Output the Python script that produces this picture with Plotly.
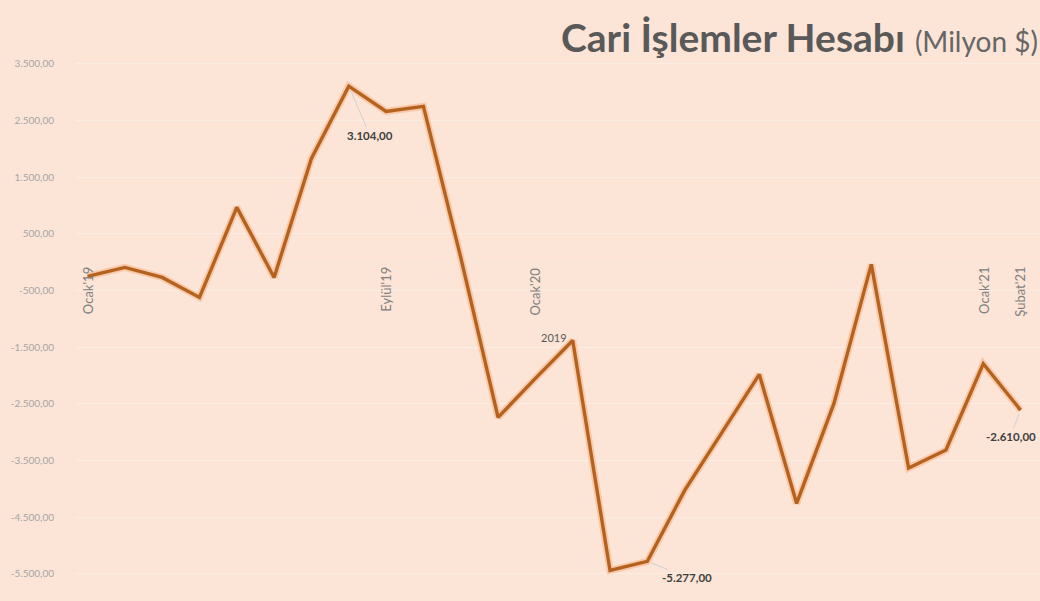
import plotly.graph_objects as go

month_names = ["Ocak", "Şubat", "Mart", "Nisan", "Mayıs", "Haziran", "Temmuz",
               "Ağustos", "Eylül", "Ekim", "Kasım", "Aralık"]
months = [f"{m}'{y}" for y in (19, 20) for m in month_names] + ["Ocak'21", "Şubat'21"]

values = [-252, -93, -270, -623, 965, -270, 1829, 3104, 2658, 2746, 83,
          -2739, -2051, -1381, -5437, -5277, -4026, -3003, -1980, -4256,
          -2492, -40, -3631, -3314, -1793, -2610]

shown_months = ["Ocak'19", "Eylül'19", "Ocak'20", "Ocak'21", "Şubat'21"]

y_tickvals = [3500, 2500, 1500, 500, -500, -1500, -2500, -3500, -4500, -5500]
y_ticktext = ["3.500,00", "2.500,00", "1.500,00", "500,00", "-500,00", "-1.500,00",
              "-2.500,00", "-3.500,00", "-4.500,00", "-5.500,00"]

# labelled points: (month, label text, ax, ay)
point_labels = [("Ağustos'19", "3.104,00", 21, 49),
                ("Nisan'20", "-5.277,00", 40, 16),
                ("Şubat'21", "-2.610,00", -10, 26)]
series_label_month = "Şubat'20"
series_label = "2019"

BG = "#FCE4D6"
FONT = "Lato, Open Sans, sans-serif"

fig = go.Figure()
fig.add_trace(go.Scatter(x=months, y=values, mode="lines",
                         line=dict(color="rgba(244,177,131,0.55)", width=7),
                         hoverinfo="skip", showlegend=False))
fig.add_trace(go.Scatter(x=months, y=values, mode="lines",
                         line=dict(color="#B5621F", width=3.4),
                         showlegend=False))

anns = []
for m in shown_months:
    anns.append(dict(x=m, y=0, xref="x", yref="y", text=m, showarrow=False,
                     textangle=-90, xanchor="center", yanchor="top", yshift=-3,
                     font=dict(family=FONT, size=13, color="#808080")))

for m, txt, ax, ay in point_labels:
    v = values[months.index(m)]
    anns.append(dict(x=m, y=v, xref="x", yref="y", text=f"<b>{txt}</b>",
                     showarrow=True, arrowhead=0, arrowwidth=1, arrowcolor="#D0D0D0",
                     ax=ax, ay=ay, standoff=4,
                     font=dict(family=FONT, size=11.5, color="#404040")))

anns.append(dict(x=series_label_month, y=values[months.index(series_label_month)],
                 xref="x", yref="y", text=series_label, showarrow=False,
                 xanchor="right", yanchor="middle", xshift=-4, yshift=3,
                 font=dict(family=FONT, size=11, color="#595959")))

anns.append(dict(x=1, y=1.001, xref="paper", yref="paper", xanchor="right", yanchor="middle",
                 xshift=0, yshift=3, showarrow=False,
                 text="<b>Cari İşlemler Hesabı</b> <span style='font-size:28px;color:#666666'>(Milyon $)</span>",
                 font=dict(family=FONT, size=39, color="#595959")))

fig.update_layout(
    width=1040, height=601,
    margin=dict(l=75, r=0, t=41, b=10),
    paper_bgcolor=BG, plot_bgcolor=BG,
    annotations=anns,
    xaxis=dict(type="category", range=[-0.335, 25.52], showticklabels=False,
               showgrid=False, zeroline=False, showline=False),
    yaxis=dict(range=[-5800, 3900], tickvals=y_tickvals, ticktext=y_ticktext,
               tickfont=dict(family=FONT, size=10, color="#A6A6A6"),
               showgrid=True, gridcolor="#FAEDE4", gridwidth=1,
               zeroline=True, zerolinecolor="#F7E6DA", zerolinewidth=1,
               ticklabelstandoff=20, showline=False),
)

fig.write_html("out.html", config={"displayModeBar": False},
               post_script="document.body.style.margin='0';document.body.style.overflow='hidden';")
